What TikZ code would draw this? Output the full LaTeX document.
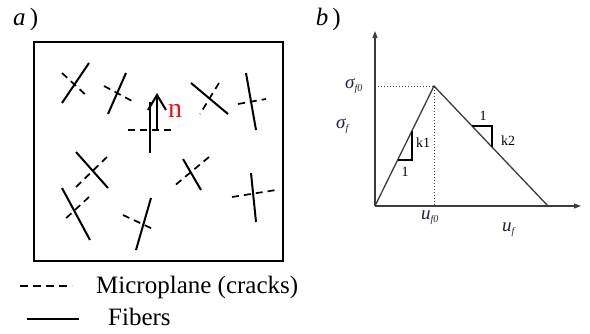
\documentclass[tikz,border=0pt]{standalone}
\usepackage{fontspec}
\setmainfont{Liberation Serif}
\usetikzlibrary{arrows.meta}
\definecolor{axisgray}{RGB}{60,60,60}
\definecolor{lblblue}{RGB}{30,30,70}
\definecolor{nred}{RGB}{235,20,20}
\newcommand{\lowsub}[1]{\raisebox{-0.45ex}{\fontsize{10}{10}\selectfont #1}}
\begin{document}
\begin{tikzpicture}[x=1pt,y=-1pt,
  fiber/.style={line width=2pt},
  crack/.style={line width=1.7pt, dash pattern=on 7pt off 5pt},
  legcrack/.style={line width=1.7pt, dash pattern=on 8pt off 5pt},
  frame/.style={line width=2pt},
  axisline/.style={line width=1.2pt, draw=axisgray, -{Triangle[length=7pt,width=5pt]}},
  guide/.style={line width=1pt, draw=axisgray, dotted},
  curve/.style={line width=1.3pt, draw=axisgray},
  slopetri/.style={line width=1.5pt, draw=black},
  biglbl/.style={font=\fontsize{25}{25}\selectfont, inner sep=0pt},
  smlbl/.style={font=\fontsize{14}{14}\selectfont, inner sep=0pt},
  sglbl/.style={font=\fontsize{19}{19}\selectfont\itshape, text=lblblue, inner sep=0pt}]
\useasboundingbox (0,0) rectangle (590,333);

% panel labels
\node[biglbl, anchor=base west] (la) at (13,25) {\textit{a}\,)};
\node[biglbl, anchor=base east] (lb) at (341,25) {\textit{b}\,)};

% ---------- panel a ----------
\draw[frame] (34,42) rectangle (283,261);

% fibre / microplane pairs
\foreach \fa/\fb/\ca/\cb [count=\i] in {
  {62,103}/{89,63}/{62,73}/{88,97},
  {108,114}/{126,73}/{104,86}/{132,101},
  {191,83}/{228,114}/{219,83}/{200,114},
  {246,73}/{256,130}/{238,104}/{266,99},
  {76,152}/{108,188}/{107,157}/{75,188},
  {62,188}/{90,240}/{89,197}/{63,221},
  {151,198}/{136,250}/{123,215}/{155,230},
  {183,159}/{201,190}/{209,157}/{173,187},
  {251,173}/{256,222}/{232,197}/{276,190}}{
  \coordinate (f\i a) at (\fa); \coordinate (f\i b) at (\fb);
  \coordinate (c\i a) at (\ca); \coordinate (c\i b) at (\cb);
  \draw[fiber] (f\i a) -- (f\i b);
  \draw[crack] (c\i a) -- (c\i b);
}

% central pair with normal vector
\coordinate (f0a) at (150,102); \coordinate (f0b) at (150,153);
\coordinate (c0a) at (128,130); \coordinate (c0b) at (174,130);
\draw[fiber] (f0a) -- (f0b);
\draw[crack] (c0a) -- (c0b);
\coordinate (nb) at (157,130); \coordinate (nt) at (157,95);
\coordinate (hl) at (148,110); \coordinate (hr) at (166,110);
\draw[fiber] (nb) -- (nt);
\draw[fiber, miter limit=10] (hl) -- (nt) -- (hr);
\node[font=\fontsize{28}{28}\selectfont, text=nred, inner sep=0pt, anchor=base west] (nlbl) at (168,117) {n};

% legend
\coordinate (lc1) at (20,286); \coordinate (lc2) at (72,286);
\draw[legcrack] (lc1) -- (lc2);
\node[biglbl, anchor=base west] (lmic) at (96,293) {Microplane (cracks)};
\coordinate (lf1) at (27,319); \coordinate (lf2) at (79,319);
\draw[fiber] (lf1) -- (lf2);
\node[biglbl, anchor=base west] (lfib) at (108,325) {Fibers};

% ---------- panel b ----------
\coordinate (O) at (375,206);
\coordinate (Ytop) at (375,31);
\coordinate (Xend) at (581,206);
\coordinate (P) at (434,86);
\coordinate (E) at (548,206);
\coordinate (Y0) at (375,86);
\coordinate (X0) at (434,206);
\draw[axisline] (O) -- (Ytop);
\draw[axisline] (O) -- (Xend);
\draw[guide] (Y0) -- (P) -- (X0);
\draw[curve] (O) -- (P) -- (E);

\coordinate (t1a) at (398,160); \coordinate (t1b) at (412,160); \coordinate (t1c) at (412,131);
\draw[slopetri] (t1a) -- (t1b) -- (t1c);
\coordinate (t2a) at (472,126); \coordinate (t2b) at (492,126); \coordinate (t2c) at (492,147);
\draw[slopetri] (t2a) -- (t2b) -- (t2c);

\node[smlbl] (k1) at (423,143) {k1};
\node[smlbl] (one1) at (405,172) {1};
\node[smlbl] (one2) at (483,116) {1};
\node[smlbl] (k2) at (508,141) {k2};

\node[sglbl, anchor=base west] (sf0) at (345,88) {σ\lowsub{f0}};
\node[sglbl, anchor=base west] (sf) at (336,128) {σ\lowsub{f}};
\node[sglbl, anchor=base west] (uf0) at (421,219) {u\lowsub{f0}};
\node[sglbl, anchor=base west] (uf) at (502,231) {u\lowsub{f}};
\end{tikzpicture}
\end{document}
